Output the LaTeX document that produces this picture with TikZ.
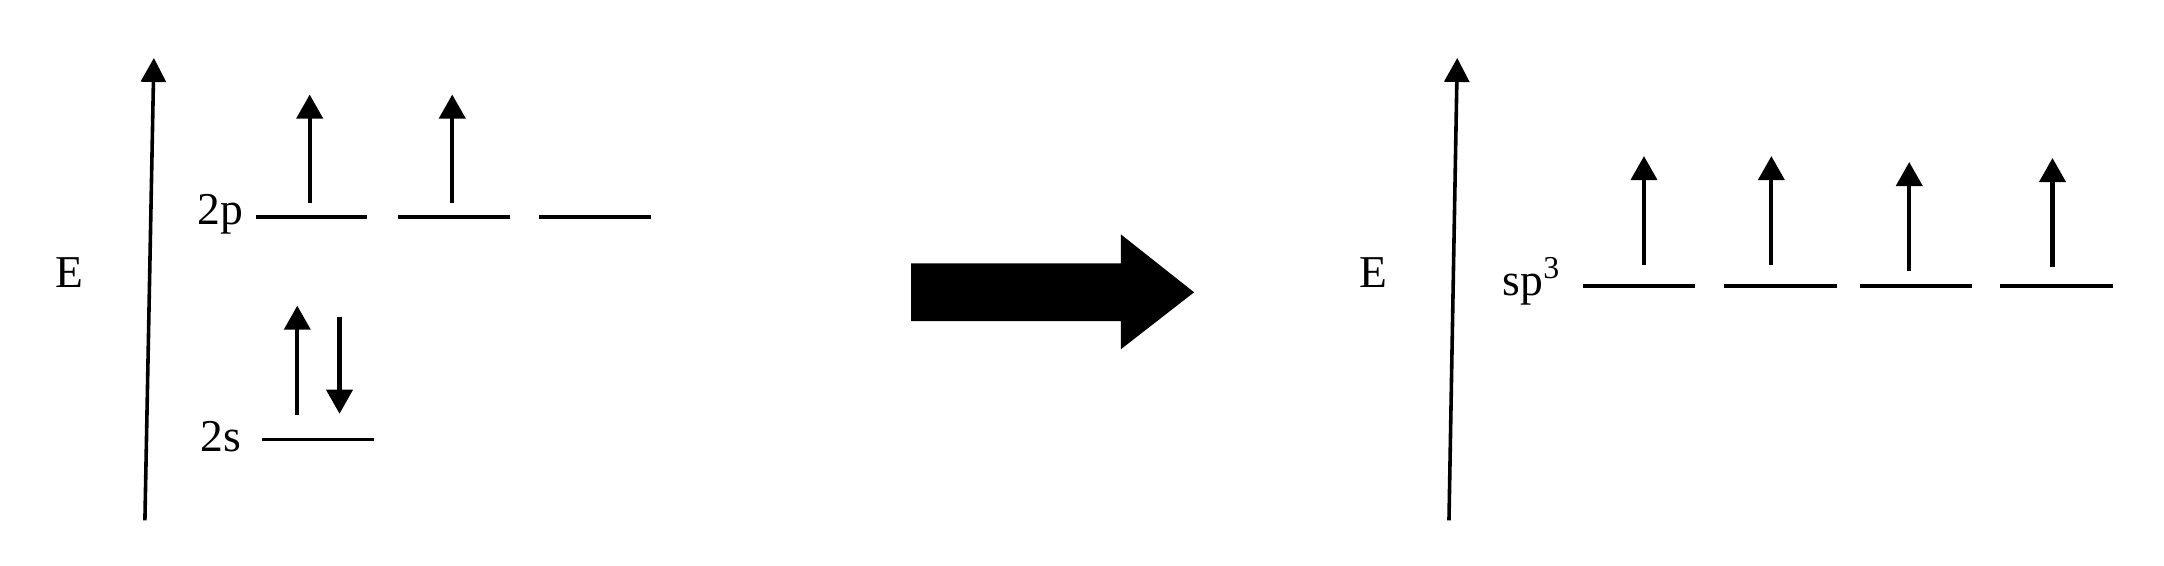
\documentclass[tikz,border=0pt]{standalone}
\usepackage{fontspec}
\setmainfont{Liberation Serif}
\usetikzlibrary{arrows.meta}

\begin{document}
\begin{tikzpicture}[x=0.5pt,y=-0.5pt,
  level/.style={draw,line width=1.2pt},
  spin/.style={draw,line width=1.5pt,-{Triangle[length=8.7pt,width=9.4pt]}},
  axis/.style={draw,line width=1.3pt,-{Triangle[length=8.7pt,width=9pt]}},
  lbl/.style={inner sep=0pt,anchor=base,font=\fontsize{16.5}{19}\selectfont}]
\useasboundingbox (0,0) rectangle (1568,410.1);

% left: ground state
\coordinate (a0) at (105,377);
\coordinate (a1) at (111.5,42);
\path[axis] (a0) -- (a1);
\node[lbl] (E1) at (50.3,208.3) {E};

\node[lbl] (2p) at (159.7,162.5) {2p};
\node[lbl] (2s) at (159.8,327.5) {2s};

\coordinate (p1l) at (185.4,157.3);
\coordinate (p1r) at (266.1,157.3);
\coordinate (p2l) at (288.7,157.3);
\coordinate (p2r) at (369.7,157.3);
\coordinate (p3l) at (390.7,157.3);
\coordinate (p3r) at (472,157.3);
\coordinate (sl) at (190.2,318.3);
\coordinate (sr) at (271.2,318.3);
\path[level] (p1l) -- (p1r);
\path[level] (p2l) -- (p2r);
\path[level] (p3l) -- (p3r);
\path[level] (sl) -- (sr);

\coordinate (e1a) at (224.4,147.3);
\coordinate (e1b) at (224.4,68.5);
\coordinate (e2a) at (327.7,147.3);
\coordinate (e2b) at (327.7,68.5);
\coordinate (e3a) at (215.4,300.6);
\coordinate (e3b) at (215.4,221.5);
\coordinate (e4a) at (246,229.5);
\coordinate (e4b) at (246,299.8);
\path[spin] (e1a) -- (e1b);
\path[spin] (e2a) -- (e2b);
\path[spin] (e3a) -- (e3b);
\path[spin] (e4a) -- (e4b);

% big arrow
\fill (660.1,190.8) -- (812.1,190.8) -- (812.1,169.8) -- (865.2,211.8)
  -- (812.1,253.1) -- (812.1,232.6) -- (660.1,232.6) -- cycle;

% right: hybridised
\coordinate (b0) at (1049.9,377);
\coordinate (b1) at (1055.9,42);
\path[axis] (b0) -- (b1);
\node[lbl] (E2) at (995,208.3) {E};
\node[lbl,anchor=base west] (sp3) at (1088.5,214.3) {sp\textsuperscript{3}};

\coordinate (h1l) at (1147,207.3);
\coordinate (h1r) at (1227.8,207.3);
\coordinate (h2l) at (1249.3,207.3);
\coordinate (h2r) at (1331.2,207.3);
\coordinate (h3l) at (1347.6,207.3);
\coordinate (h3r) at (1428.7,207.3);
\coordinate (h4l) at (1449.4,207.3);
\coordinate (h4r) at (1531,207.3);
\path[level] (h1l) -- (h1r);
\path[level] (h2l) -- (h2r);
\path[level] (h3l) -- (h3r);
\path[level] (h4l) -- (h4r);

\coordinate (u1a) at (1191.2,191.9);
\coordinate (u1b) at (1191.2,113.1);
\coordinate (u2a) at (1283.5,191.9);
\coordinate (u2b) at (1283.5,113.1);
\coordinate (u3a) at (1383.4,196.3);
\coordinate (u3b) at (1383.4,117.4);
\coordinate (u4a) at (1487.2,193.6);
\coordinate (u4b) at (1487.2,114.5);
\path[spin] (u1a) -- (u1b);
\path[spin] (u2a) -- (u2b);
\path[spin] (u3a) -- (u3b);
\path[spin] (u4a) -- (u4b);
\end{tikzpicture}
\end{document}
